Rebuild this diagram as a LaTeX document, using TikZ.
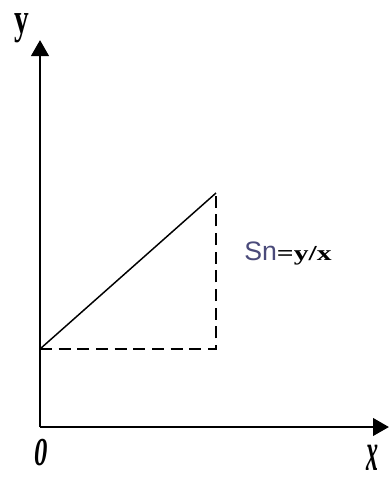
\documentclass[tikz,border=0pt]{standalone}
\usepackage{fontspec}
\usepackage{graphicx}
\usetikzlibrary{arrows.meta}
\newfontfamily\snfont{Liberation Sans}
\newfontfamily\lblfont{Liberation Serif}
\definecolor{sncol}{HTML}{4A4A7A}
\begin{document}
\begin{tikzpicture}[x=0.75pt,y=-0.75pt,
  axis/.style={line width=2.2pt,-{Triangle[length=12pt,width=13pt]}},
  dashline/.style={line width=1.9pt,dash pattern=on 9pt off 5pt},
  slope/.style={line width=1.1pt},
  lbl/.style={inner sep=0pt}]
\useasboundingbox (0,0) rectangle (389,482);
\coordinate (O) at (40,427);
\coordinate (ytop) at (40,40);
\coordinate (xend) at (389,427);
\coordinate (A) at (40,349);
\coordinate (B) at (216,193);
\coordinate (C) at (216,349);
\draw[axis] (O) -- (ytop);
\draw[axis] (O) -- (xend);
\draw[slope] (A) -- (B);
\draw[dashline] (A) -- (C) -- (B);
\node[lbl] (ylab) at (22,28) {\resizebox*{11pt}{22pt}{\lblfont\bfseries y}};
\node[lbl] (olab) at (41,453) {\resizebox*{10pt}{20pt}{\lblfont\bfseries\itshape 0}};
\node[lbl] (xlab) at (372,458) {\resizebox*{9pt}{19pt}{\lblfont\bfseries\itshape x}};
\node[lbl,anchor=base west] (sn) at (244,260) {\fontsize{20pt}{20pt}\selectfont\snfont\color{sncol}Sn\lblfont\bfseries\color{black}\resizebox*{41pt}{14pt}{=y/x}};
\end{tikzpicture}
\end{document}
